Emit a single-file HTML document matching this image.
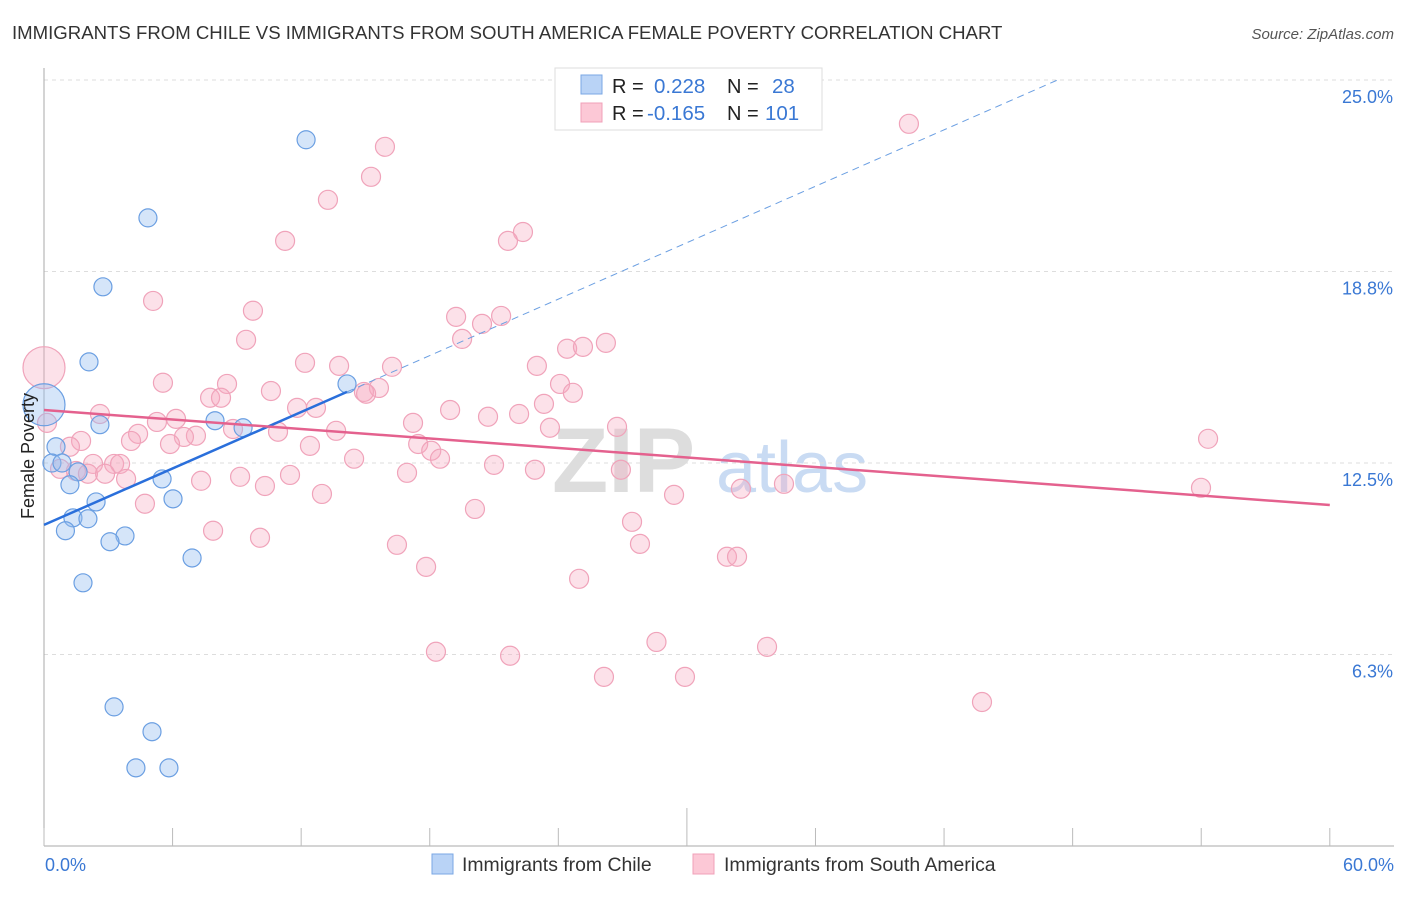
<!DOCTYPE html>
<html><head><meta charset="utf-8"><style>
body{margin:0;background:#fff;font-family:"Liberation Sans",sans-serif;}
svg text{font-family:"Liberation Sans",sans-serif;}
</style></head><body>
<svg id="chart" width="1406" height="892" viewBox="0 0 1406 892">
<text x="12" y="39" font-size="18.6" fill="#333">IMMIGRANTS FROM CHILE VS IMMIGRANTS FROM SOUTH AMERICA FEMALE POVERTY CORRELATION CHART</text>
<text x="1394" y="39" font-size="15" fill="#555" font-style="italic" text-anchor="end">Source: ZipAtlas.com</text>
<g>
<text x="552" y="492" font-size="92" fill="#ddd" font-family="Liberation Serif" font-weight="bold">ZIP</text>
<text x="716" y="492" font-size="72" fill="#c9dbf3">atlas</text>
</g>
<g id="grid"></g>
<g id="axes"></g>
<g id="pts"></g>
<g id="trends"></g>
<text transform="translate(34,456) rotate(-90)" font-size="18" fill="#222" text-anchor="middle">Female Poverty</text>
<g>
<rect x="555" y="68" width="267" height="62" fill="#fff" stroke="#ddd"/>
<rect x="581" y="75" width="21" height="19" fill="#b9d3f6" stroke="#7aa7e4"/>
<rect x="581" y="103" width="21" height="19" fill="#fcc8d6" stroke="#f0a0b8"/>
<text x="612" y="93" font-size="20" fill="#222">R =</text>
<text x="654" y="93" font-size="20.5" fill="#3a78d4">0.228</text>
<text x="727" y="93" font-size="20" fill="#222">N =</text>
<text x="772" y="93" font-size="20.5" fill="#3a78d4">28</text>
<text x="612" y="120" font-size="20" fill="#222">R =</text>
<text x="647" y="120" font-size="20.5" fill="#3a78d4">-0.165</text>
<text x="727" y="120" font-size="20" fill="#222">N =</text>
<text x="765" y="120" font-size="20.5" fill="#3a78d4">101</text>
</g>
<g>
<rect x="432" y="854" width="21" height="20" fill="#b9d3f6" stroke="#7aa7e4"/>
<text x="462" y="871" font-size="19.4" fill="#333">Immigrants from Chile</text>
<rect x="693" y="854" width="21" height="20" fill="#fcc8d6" stroke="#f0a0b8"/>
<text x="724" y="871" font-size="19.4" fill="#333">Immigrants from South America</text>
</g>
</svg>
<script>
const yTicks=[6.25,12.5,18.75,25];
const yTickLabels=["6.3%","12.5%","18.8%","25.0%"];
const xTickValues=[0,6,12,18,24,30,36,42,48,54,60];
const xEndLabels=["0.0%","60.0%"];
const chileX=[12.23,4.85,2.75,2.10,0,14.14,7.98,2.61,9.29,0.56,0.37,0.84,1.59,1.21,5.51,2.43,6.02,1.35,2.05,1.0,3.78,3.08,6.91,1.82,3.27,5.04,4.29,5.83];
const chileY=[23.05,20.5,18.25,15.8,14.4,15.08,13.88,13.75,13.65,13.03,12.5,12.5,12.21,11.79,11.98,11.23,11.33,10.71,10.68,10.29,10.12,9.93,9.4,8.59,4.54,3.73,2.55,2.55];
const chileR=[9,9,9,9,21,9,9,9,9,9,9,9,9,9,9,9,9,9,9,9,9,9,9,9,9,9,9,9];
const saX=[40.36,15.91,15.26,13.25,11.25,22.35,21.65,5.09,9.75,19.23,20.44,21.33,19.51,9.43,23.0,24.41,25.15,26.22,12.18,13.77,16.24,0,5.55,8.54,10.59,24.08,24.68,15.63,14.93,15.03,7.75,8.26,23.33,2.61,18.95,20.72,22.17,11.81,12.69,5.27,6.16,17.22,8.82,10.92,13.63,23.61,26.74,0.14,4.39,7.09,6.53,5.88,4.06,1.73,1.21,12.41,17.46,18.07,18.48,14.47,54.32,2.29,3.27,3.55,1.49,0.75,2.05,2.85,3.83,7.33,9.15,11.48,16.94,21.0,22.91,26.92,10.31,32.52,34.53,53.99,12.97,29.4,4.71,20.11,27.44,7.89,10.08,16.47,27.81,31.87,32.34,17.83,24.97,28.58,33.74,18.29,21.75,26.13,29.91,43.77];
const saY=[23.57,22.82,21.84,21.09,19.75,20.04,19.75,17.79,17.47,17.27,17.04,17.3,16.55,16.52,15.67,16.23,16.29,16.42,15.77,15.67,15.64,15.61,15.12,15.08,14.85,15.08,14.79,14.95,14.82,14.76,14.63,14.63,14.43,14.1,14.23,14.01,14.1,14.3,14.3,13.84,13.94,13.81,13.61,13.52,13.55,13.65,13.68,13.81,13.45,13.39,13.35,13.12,13.22,13.22,13.03,13.06,13.12,12.9,12.64,12.64,13.29,12.47,12.47,12.47,12.24,12.31,12.15,12.15,11.98,11.92,12.05,12.11,12.18,12.44,12.28,12.28,11.75,11.66,11.82,11.69,11.49,11.46,11.17,11.0,10.58,10.29,10.06,9.83,9.86,9.44,9.44,9.11,8.72,6.66,6.5,6.34,6.21,5.52,5.52,4.7];
const chileTrend=[10.48,0.307];
const saTrend=[14.23,-0.0517];
const X=v=>44+v*21.43, Y=v=>846-v*30.64;
const NS="http://www.w3.org/2000/svg";
function mk(tag,attrs,parent){const e=document.createElementNS(NS,tag);for(const k in attrs)e.setAttribute(k,attrs[k]);parent.appendChild(e);return e;}
const grid=document.getElementById('grid'),axes=document.getElementById('axes');
yTicks.forEach((t,i)=>{
 const l=mk('line',{x1:44,x2:1394,y1:Y(t),y2:Y(t),stroke:'#ddd','stroke-dasharray':'4,4'},grid);
 
 
 const tx=mk('text',{x:1393,y:Y(t)+23,'font-size':18,fill:'#3a78d4','text-anchor':'end'},axes);
 tx.textContent=yTickLabels[i];
 
 
});
const yax=mk('line',{x1:44,x2:44,y1:68,y2:846,stroke:'#aaa'},axes);


const xax=mk('line',{x1:44,x2:1394,y1:846,y2:846,stroke:'#aaa'},axes);


xTickValues.forEach((t,i)=>{
 const tk=mk('line',{x1:X(t),x2:X(t),y1:846,y2:i==5?808:828,stroke:'#bbb'},axes);
 
 
});
[[0,'start',45],[60,'end',1394]].forEach((a,i)=>{
 const tx=mk('text',{x:a[2],y:871,'font-size':18,fill:'#3a78d4','text-anchor':a[1]},axes);
 tx.textContent=xEndLabels[i];
 
 
});
const pts=document.getElementById('pts');
saX.forEach((x,i)=>{
 const c=mk('circle',{cx:X(x),cy:Y(saY[i]),r:(x===0?21:9.5),fill:'rgba(246,170,192,0.35)',stroke:'#f0a3ba','stroke-width':1.2},pts);
 
 
});
chileX.forEach((x,i)=>{
 const c=mk('circle',{cx:X(x),cy:Y(chileY[i]),r:chileR[i],fill:'rgba(150,190,240,0.4)',stroke:'#6b9fe2','stroke-width':1.2},pts);
 
 
});
const tr=document.getElementById('trends');
const cEnd=Math.max(...chileX);
const b1=mk('line',{x1:X(0),y1:Y(chileTrend[0]),x2:X(cEnd),y2:Y(chileTrend[0]+chileTrend[1]*cEnd),stroke:'#2a6fdb','stroke-width':2.5},tr);


const xd=(25.05-chileTrend[0])/chileTrend[1];
const b2=mk('line',{x1:X(cEnd),y1:Y(chileTrend[0]+chileTrend[1]*cEnd),x2:X(xd),y2:Y(25.05),stroke:'#6b9fe2','stroke-width':1,'stroke-dasharray':'7,5'},tr);


const p1=mk('line',{x1:X(0),y1:Y(saTrend[0]),x2:X(60),y2:Y(saTrend[0]+saTrend[1]*60),stroke:'#e4618e','stroke-width':2.5},tr);


</script>
</body></html>
